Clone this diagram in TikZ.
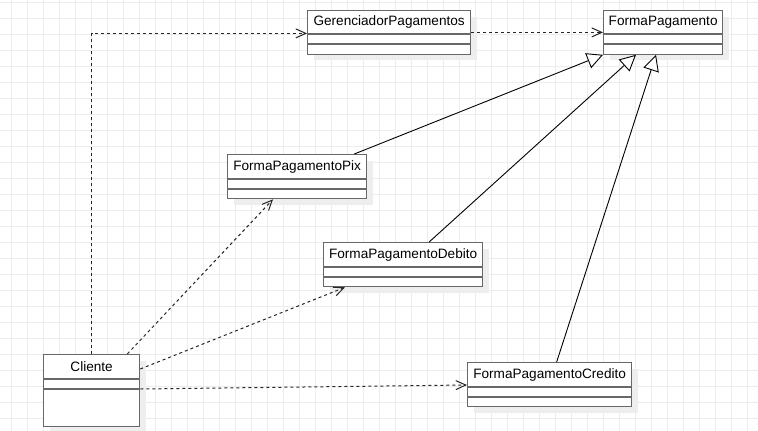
\documentclass[tikz,border=0pt]{standalone}
\usepackage{fontspec}
\setmainfont{Liberation Sans}
\usetikzlibrary{arrows.meta,shadows,calc}
\definecolor{gridc}{RGB}{236,236,236}
\definecolor{boxc}{RGB}{104,104,104}
\definecolor{shadc}{RGB}{238,238,238}
\begin{document}
\begin{tikzpicture}[x=1pt,y=-1pt,
  cls/.style={draw=boxc, line width=1.3pt, fill=white, rectangle, inner sep=0pt, anchor=north west,
    drop shadow={shadow xshift=6pt, shadow yshift=-6pt, fill=shadc, opacity=1}},
  ttl/.style={font=\fontsize{13.6}{16}\selectfont, inner sep=0pt, text=black},
  sep/.style={draw=boxc, line width=1.3pt},
  dep/.style={draw=black!85, line width=1pt, dash pattern=on 3pt off 3pt, -{Straight Barb[length=10pt,width=9pt]}},
  inh/.style={draw=black, line width=0.9pt, -{Triangle[length=16pt,width=16pt,fill=white]}}]

\useasboundingbox (0,0) rectangle (758,431);
\fill[white] (0,0) rectangle (758,431);
\foreach \i in {0,...,46} \draw[gridc, line width=1pt] (11.7+16*\i,0) -- (11.7+16*\i,431);
\foreach \j in {0,...,26} \draw[gridc, line width=1pt] (0,2+16*\j) -- (758,2+16*\j);

% classes
\node[cls, minimum width=163pt, minimum height=43.5pt] (gp) at (307,10) {};
\node[ttl] (gpT) at ($(gp.north)+(0,12)$) {GerenciadorPagamentos};
\draw[sep] ($(gp.north west)+(0,24)$) -- ($(gp.north east)+(0,24)$);
\draw[sep] ($(gp.north west)+(0,34)$) -- ($(gp.north east)+(0,34)$);

\node[cls, minimum width=119pt, minimum height=43.5pt] (fp) at (603,10) {};
\node[ttl] (fpT) at ($(fp.north)+(0,12)$) {FormaPagamento};
\draw[sep] ($(fp.north west)+(0,24)$) -- ($(fp.north east)+(0,24)$);
\draw[sep] ($(fp.north west)+(0,34)$) -- ($(fp.north east)+(0,34)$);

\node[cls, minimum width=139pt, minimum height=44pt] (pix) at (227,154) {};
\node[ttl] (pixT) at ($(pix.north)+(0,12.5)$) {FormaPagamentoPix};
\draw[sep] ($(pix.north west)+(0,25)$) -- ($(pix.north east)+(0,25)$);
\draw[sep] ($(pix.north west)+(0,35)$) -- ($(pix.north east)+(0,35)$);

\node[cls, minimum width=159pt, minimum height=44pt] (deb) at (323,242) {};
\node[ttl] (debT) at ($(deb.north)+(0,12.5)$) {FormaPagamentoDebito};
\draw[sep] ($(deb.north west)+(0,25)$) -- ($(deb.north east)+(0,25)$);
\draw[sep] ($(deb.north west)+(0,35)$) -- ($(deb.north east)+(0,35)$);

\node[cls, minimum width=164pt, minimum height=44pt] (cred) at (467,362) {};
\node[ttl] (credT) at ($(cred.north)+(0,12.5)$) {FormaPagamentoCredito};
\draw[sep] ($(cred.north west)+(0,25)$) -- ($(cred.north east)+(0,25)$);
\draw[sep] ($(cred.north west)+(0,35)$) -- ($(cred.north east)+(0,35)$);

\node[cls, minimum width=96pt, minimum height=72pt] (cli) at (43,354) {};
\node[ttl] (cliT) at ($(cli.north)+(0,12.5)$) {Cliente};
\draw[sep] ($(cli.north west)+(0,25)$) -- ($(cli.north east)+(0,25)$);
\draw[sep] ($(cli.north west)+(0,35)$) -- ($(cli.north east)+(0,35)$);

% connectors
\draw[dep] (cli.north) |- ([yshift=-1pt]gp.west);
\draw[dep] (gp.east) -- (fp.west);
\draw[inh] ([xshift=-13pt]pix.north east) -- (fp.south west);
\draw[inh] ([xshift=26pt]deb.north) -- ([xshift=33pt]fp.south west);
\draw[inh] ([xshift=7pt]cred.north) -- ([xshift=53pt]fp.south west);
\draw[dep] ([xshift=-13pt]cli.north east) -- ([xshift=46pt]pix.south west);
\draw[dep] ([yshift=-15pt]cli.north east) -- ([xshift=22pt]deb.south west);
\draw[dep] ([yshift=-35pt]cli.north east) -- ([yshift=-23pt]cred.north west);
\end{tikzpicture}
\end{document}
